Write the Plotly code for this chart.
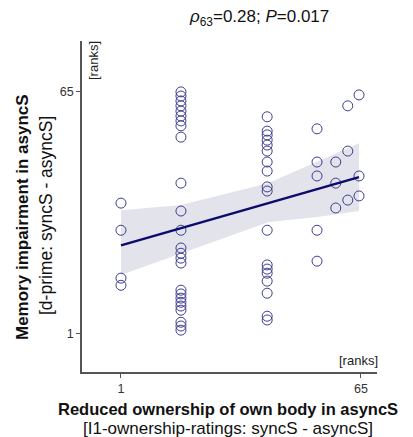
import plotly.graph_objects as go

# ---- data (ranks) ----
x_ranks = [1, 1, 1, 1] + [17] * 25 + [40] * 18 + [53.3] * 5 + [58.3] * 3 + [61.5] * 3 + [64.5] * 3
y_ranks = [35.5, 28.3, 15.6, 13.7,
           65.0, 63.9, 62.6, 61.3, 59.9, 58.6, 57.3, 56.0, 53.0, 40.8, 33.4, 28.3,
           23.6, 22.2, 20.9, 19.6, 12.4, 11.4, 10.3, 9.2, 8.2, 7.1, 3.9, 2.9, 1.8,
           58.4, 54.6, 53.6, 52.2, 50.9, 49.3, 46.4, 44.0, 39.8, 38.7, 28.3, 19.1,
           18.0, 16.9, 14.8, 11.6, 5.5, 4.5,
           55.2, 46.4, 42.7, 28.3, 20.1,
           46.4, 40.8, 34.2,
           61.3, 49.3, 36.3,
           64.2, 42.7, 37.4]

fit_x = [1, 17, 40.2, 53.3, 64.5]
fit_y = [24.3, 28.9, 35.5, 39.2, 42.4]
ci_upper = [33.6, 35.0, 40.8, 46.6, 51.4]
ci_lower = [16.4, 22.2, 30.4, 31.8, 33.4]

tick_vals = [1, 65]
tick_text = ["1", "65"]

FONT = "Liberation Sans, Arial, sans-serif"

fig = go.Figure()
fig.add_trace(go.Scatter(
    x=fit_x + fit_x[::-1], y=ci_upper + ci_lower[::-1],
    fill="toself", fillcolor="#e3e3eb", line=dict(width=0),
    mode="lines", hoverinfo="skip", showlegend=False))
fig.add_trace(go.Scatter(
    x=x_ranks, y=y_ranks, mode="markers",
    marker=dict(symbol="circle-open", size=10, color="#3d3d8f", line=dict(width=1)),
    showlegend=False))
fig.add_trace(go.Scatter(
    x=fit_x, y=fit_y, mode="lines",
    line=dict(color="#0b0b6b", width=2.5), showlegend=False))

# page has an 8px body margin, so the figure is 8px smaller and shifted
OFF = 8
W, H = 413 - OFF, 437 - OFF
L, T = 82 - OFF, 41 - OFF
R = W - (377 - OFF)
B = H - (372 - OFF)
pw, ph = W - L - R, H - T - B

def px(xp):
    return (xp - OFF - L) / pw

def py(yp):
    return (H - B - (yp - OFF)) / ph

axis_common = dict(
    showgrid=False, zeroline=False, showline=True, linecolor="#555555", linewidth=1.5,
    ticks="outside", ticklen=4, tickcolor="#555555", tickwidth=1.2,
    tickvals=tick_vals, ticktext=tick_text,
    tickfont=dict(family=FONT, size=12.5, color="#333333"),
)

fig.update_layout(
    width=W, height=H,
    margin=dict(l=L, r=R, t=T, b=B),
    paper_bgcolor="white", plot_bgcolor="white",
    xaxis=dict(range=[-9.4, 69.3], **axis_common),
    yaxis=dict(range=[-9.3, 78.5], **axis_common),
    font=dict(family=FONT),
)

ann = [
    dict(text="<i>ρ</i><sub>63</sub>=0.28; <i>P</i>=0.017", x=px(259), y=py(18),
         font=dict(size=17, color="#111111")),
    dict(text="<b>Reduced ownership of own body in asyncS</b>", x=px(228), y=py(409),
         font=dict(size=16.5, color="#111111")),
    dict(text="[I1-ownership-ratings: syncS - asyncS]", x=px(228), y=py(428),
         font=dict(size=17, color="#111111")),
    dict(text="<b>Memory impairment in asyncS</b>", x=px(22), y=py(217), textangle=-90,
         font=dict(size=17, color="#111111")),
    dict(text="[d-prime: syncS - asyncS]", x=px(46), y=py(216), textangle=-90,
         font=dict(size=17.5, color="#111111")),
    dict(text="[ranks]", x=px(93), y=py(61), textangle=-90,
         font=dict(size=13, color="#222222")),
    dict(text="[ranks]", x=px(358), y=py(360),
         font=dict(size=13, color="#222222")),
]
for a in ann:
    a.update(xref="paper", yref="paper", showarrow=False, xanchor="center", yanchor="middle")
fig.update_layout(annotations=ann)

fig.write_html("out.html")
